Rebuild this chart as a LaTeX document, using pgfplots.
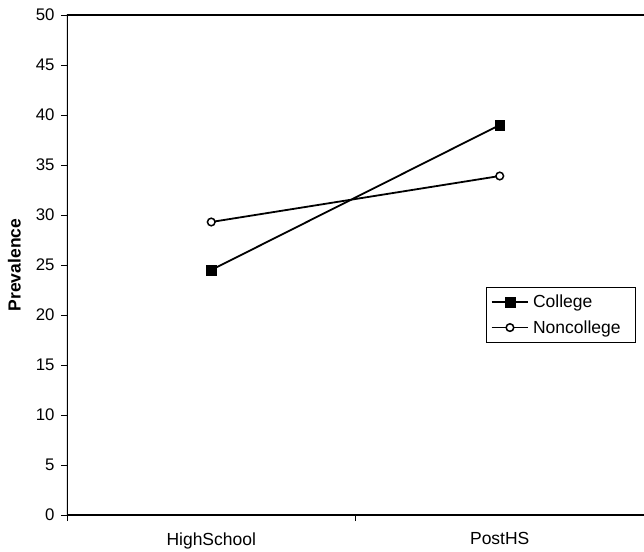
\documentclass[border=0pt]{standalone}
\usepackage{pgfplots}
\pgfplotsset{compat=1.18}
\usepackage{fontspec}
\setmainfont{Liberation Sans}

\begin{document}
\begin{tikzpicture}
\begin{axis}[
  at={(0,0)}, anchor=south west,
  width=577pt, height=500pt, scale only axis,
  xmin=0, xmax=2, ymin=0, ymax=50,
  ytick={0,5,...,50},
  xtick={0.5,1.5}, xticklabels={HighSchool,PostHS},
  minor xtick={0,1,2},
  tick align=outside, tick pos=left,
  major tick length=6pt, minor tick length=6pt,
  every tick/.style={black, line width=0.8pt},
  every major x tick/.append style={draw=none},
  axis line style={draw=none},
  /pgf/number format/assume math mode=true,
  yticklabel style={font=\fontsize{16.8}{20}\selectfont, xshift=-3pt},
  xticklabel style={font=\fontsize{17.5}{21}\selectfont, yshift=-8pt},
  ylabel={\textbf{Prevalence}},
  ylabel style={font=\fontsize{17.5}{21}\selectfont},
  ylabel shift=8pt,
  legend style={at={(rel axis cs:0.986,0.456)}, anchor=north east,
    draw=black, line width=0.6pt, font=\fontsize{17.5}{21}\selectfont,
    row sep=7pt, inner xsep=5pt, inner ysep=6pt},
  legend cell align=left,
  legend image code/.code={\draw[mark repeat=2,mark phase=2]
    plot coordinates {(0cm,0cm) (0.64cm,0cm) (1.28cm,0cm)};},
]
\addplot[black, line width=1.8pt, mark=square*, mark size=4.8pt,
  mark options={solid, line width=0.5pt}] coordinates {
  (0.5,24.5) (1.5,39.0)
};
\addplot[black, line width=1.8pt, mark=*, mark size=3.8pt,
  mark options={solid, fill=white, line width=1.5pt}] coordinates {
  (0.5,29.3) (1.5,33.9)
};
\legend{\kern2pt College,\kern2pt Noncollege\rule{8pt}{0pt}}
\draw[black, line width=2.6pt, line join=miter]
  (rel axis cs:1,1) -- (rel axis cs:0,1) -- (rel axis cs:0,0) -- (rel axis cs:1,0);
\end{axis}
\pgfresetboundingbox
\useasboundingbox (-67pt,-36pt) rectangle (577pt,515pt);
\end{tikzpicture}
\end{document}
